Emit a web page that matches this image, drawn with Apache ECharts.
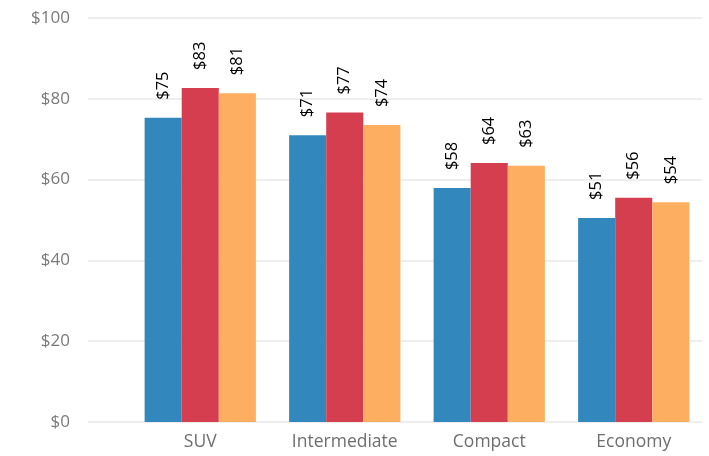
<!DOCTYPE html>
<html>
<head>
<meta charset="utf-8">
<script src="https://cdn.jsdelivr.net/npm/echarts@6/dist/echarts.min.js"></script>
<style>
  html, body { margin: 0; padding: 0; background: #fff; }
  #main { width: 709px; height: 456px; }
</style>
</head>
<body>
<div id="main"></div>
<script>
// data
var categories = ['SUV', 'Intermediate', 'Compact', 'Economy'];
var seriesNames = ['Series 1', 'Series 2', 'Series 3'];
var series1 = [75.3, 71.0, 57.9, 50.5];
var series2 = [82.7, 76.6, 64.1, 55.5];
var series3 = [81.4, 73.5, 63.4, 54.4];
var colors = ['#3288bd', '#d53e4f', '#fdae61'];
var yTicks = { min: 0, max: 100, step: 20 };

var chart = echarts.init(document.getElementById('main'));

var FONT = '"Open Sans", "Noto Sans", sans-serif';

function makeSeries(name, data, color) {
    return {
        name: name,
        type: 'bar',
        xAxisIndex: 1,
        yAxisIndex: 1,
        data: data,
        barGap: 0,
        barCategoryGap: '23%',
        itemStyle: { color: color },
        label: {
            show: true,
            position: 'top',
            rotate: 90,
            align: 'left',
            verticalAlign: 'middle',
            distance: 18,
            color: '#000',
            fontSize: 16.5,
            fontFamily: FONT,
            formatter: function (p) { return '$' + Math.round(p.value); }
        }
    };
}

var option = {
    backgroundColor: '#ffffff',
    animation: false,
    textStyle: { fontFamily: FONT },
    grid: [
        { left: 88, right: 7, top: 18, bottom: 34 },   // grid lines + y labels
        { left: 128, right: 3, top: 18, bottom: 34 }   // bars
    ],
    xAxis: [
        { type: 'category', gridIndex: 0, data: categories, show: false },
        {
            type: 'category',
            gridIndex: 1,
            data: categories,
            axisLine: { show: false },
            axisTick: { show: false },
            axisLabel: { color: '#6e6e6e', fontSize: 17.5, margin: 11, fontFamily: FONT }
        }
    ],
    yAxis: [
        {
            type: 'value',
            gridIndex: 0,
            min: yTicks.min,
            max: yTicks.max,
            interval: yTicks.step,
            axisLine: { show: false },
            axisTick: { show: false },
            axisLabel: {
                color: '#7a7a7a',
                fontSize: 17,
                margin: 18,
                fontFamily: FONT,
                formatter: function (v) { return '$' + v; }
            },
            splitLine: { lineStyle: { color: '#e8e8e8', width: 1.5 } }
        },
        {
            type: 'value',
            gridIndex: 1,
            min: yTicks.min,
            max: yTicks.max,
            interval: yTicks.step,
            show: false
        }
    ],
    series: [
        makeSeries(seriesNames[0], series1, colors[0]),
        makeSeries(seriesNames[1], series2, colors[1]),
        makeSeries(seriesNames[2], series3, colors[2])
    ]
};

chart.setOption(option);
</script>
</body>
</html>
